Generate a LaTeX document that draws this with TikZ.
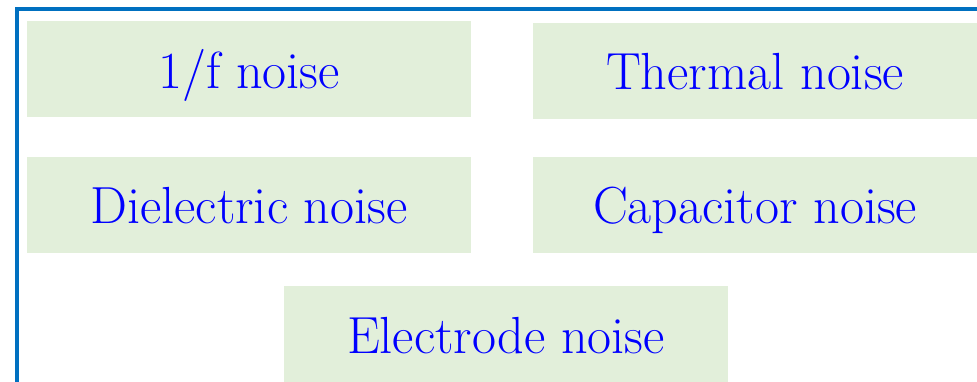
\documentclass[tikz,border=0pt]{standalone}
\definecolor{boxfill}{HTML}{E2EFDA}
\definecolor{framecol}{HTML}{0070C0}
\begin{document}
\begin{tikzpicture}[x=0.5pt,y=-0.5pt,
  noisebox/.style={fill=boxfill, text=blue, inner sep=0pt,
    minimum width=222pt, minimum height=48pt,
    text height=19pt, text depth=0pt,
    font=\fontsize{26.1}{31}\selectfont}]
\useasboundingbox (0,0) rectangle (977,381);
\clip (0,0) rectangle (977,381);
\draw[framecol, line width=2pt] (17,9) rectangle (1100,500);
\node[noisebox] (b1) at (249,69) {1/f noise};
\node[noisebox] (b2) at (755,70.5) {Thermal noise};
\node[noisebox] (b3) at (249,204.5) {Dielectric noise};
\node[noisebox] (b4) at (755,204.5) {Capacitor noise};
\node[noisebox] (b5) at (506,334) {Electrode noise};
\end{tikzpicture}
\end{document}
